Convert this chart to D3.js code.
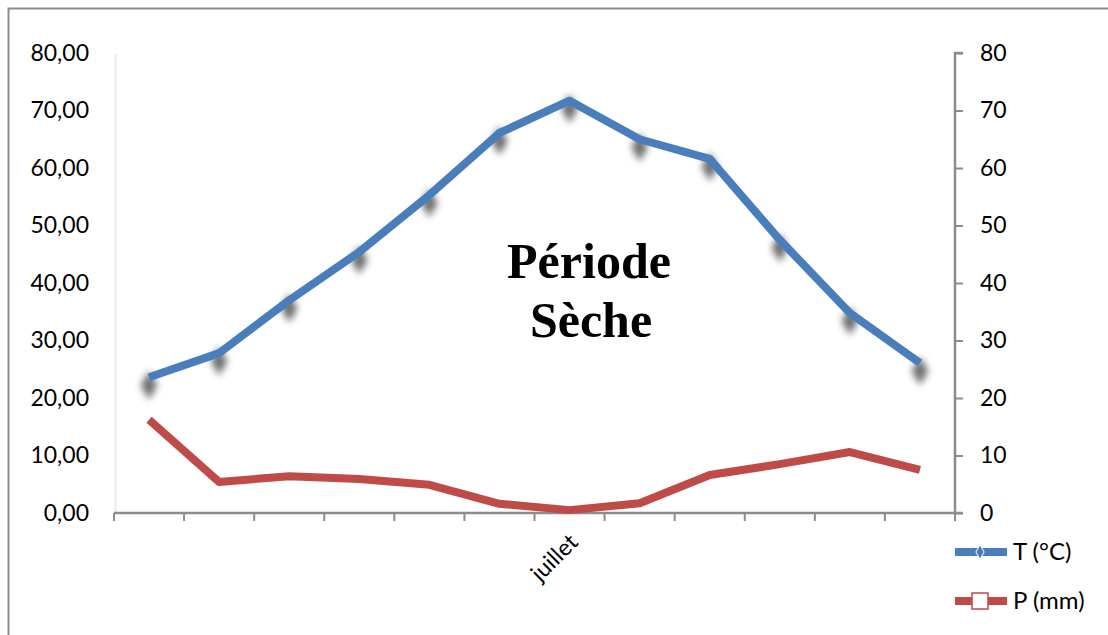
<!DOCTYPE html>
<html>
<head>
<meta charset="utf-8">
<script src="https://cdn.jsdelivr.net/npm/d3@7"></script>
<style>
	body { margin: 0; background: #fff; }
	svg { display: block; }
</style>
</head>
<body>
<svg width="1108" height="635"></svg>
<script>

// months of the year, only juillet is labelled in the original
const months = ["janvier", "février", "mars", "avril", "mai", "juin", "juillet", "août", "septembre", "octobre", "novembre", "décembre"];
const shownLabels = ["juillet"];
const tempValues = [23.6, 27.8, 37.0, 45.4, 55.3, 66.1, 71.7, 65.0, 61.6, 47.5, 34.8, 26.1];
const rainValues = [16.2, 5.4, 6.4, 5.9, 4.9, 1.6, 0.5, 1.7, 6.6, 8.5, 10.6, 7.5];
const yTicks = [0, 10, 20, 30, 40, 50, 60, 70, 80];
const seriesNames = ["T (°C)", "P (mm)"];

const blue = "#4a7ebb", red = "#be4b48";
const font = "Lato, 'Noto Sans', sans-serif";
const fsize = 23;

const svg = d3.select('svg');

// chart border (runs off the right and bottom edge)
svg.append('rect')
	.attr('x', 8.5).attr('y', 8.5)
	.attr('width', 1200).attr('height', 700)
	.attr('fill', 'none')
	.attr('stroke', '#8c8c8c')
	.attr('stroke-width', 2);

const pLeft = 114, pRight = 955, pTop = 53, pBottom = 513;

const x = d3.scaleBand().domain(months).range([pLeft, pRight]);
const yL = d3.scaleLinear().domain([0, 80]).range([pBottom, pTop]);
const yR = d3.scaleLinear().domain([0, 80]).range([pBottom, pTop]);

//blur filter for the shadows under the T markers
const defs = svg.append('defs');
defs.append('filter').attr('id', 'blur')
	.attr('x', '-100%').attr('y', '-100%').attr('width', '300%').attr('height', '300%')
	.append('feGaussianBlur').attr('stdDeviation', 3.8);

//Left axis : faint line, no ticks, labels with comma decimals
const fmt = d => d.toFixed(2).replace('.', ',');
const gL = svg.append('g')
	.attr('transform', `translate(${pLeft + 1},0)`)
	.call(d3.axisLeft(yL).tickValues(yTicks).tickSize(0).tickPadding(26).tickFormat(fmt));
gL.select('.domain').attr('stroke', '#e6ecf6').attr('stroke-width', 2);
gL.selectAll('text').attr('font-family', font).attr('font-size', fsize).attr('fill', '#000');

//Right axis
const gR = svg.append('g')
	.attr('transform', `translate(${pRight},0)`)
	.call(d3.axisRight(yR).tickValues(yTicks).tickSize(8).tickPadding(17).tickFormat(d3.format('d')));
gR.select('.domain').attr('stroke', '#8c8c8c').attr('stroke-width', 2.5).attr('d', `M8,${pTop}H0V${pBottom}H8`);
gR.selectAll('line').attr('stroke', '#8c8c8c').attr('stroke-width', 2);
gR.selectAll('text').attr('font-family', font).attr('font-size', fsize).attr('fill', '#000');

//Bottom axis with ticks between categories
const gB = svg.append('g').attr('transform', `translate(0,${pBottom})`);
gB.append('line')
	.attr('x1', pLeft).attr('x2', pRight)
	.attr('stroke', '#8c8c8c').attr('stroke-width', 2.5);
const bounds = months.map(m => x(m)).concat([pRight]);
gB.selectAll('.tk').data(bounds).join('line')
	.attr('class', 'tk')
	.attr('x1', d => d).attr('x2', d => d)
	.attr('y1', 0).attr('y2', 8)
	.attr('stroke', '#8c8c8c').attr('stroke-width', 2);
gB.selectAll('.lbl').data(shownLabels).join('text')
	.attr('class', 'lbl')
	.attr('transform', d => `translate(${x(d) + x.bandwidth() / 2 + 4},${25}) rotate(-45)`)
	.attr('text-anchor', 'end')
	.attr('dy', '0.35em')
	.attr('font-family', font).attr('font-size', fsize)
	.text(d => d);

const cx = i => x(months[i]) + x.bandwidth() / 2;

//shadows of the T markers
const diamond = d3.symbol().type(d3.symbolDiamond).size(240);
svg.append('g').selectAll('path').data(tempValues).join('path')
	.attr('d', diamond)
	.attr('transform', (d, i) => `translate(${cx(i)},${yR(d) + 8})`)
	.attr('fill', '#4a4a4a')
	.attr('opacity', 0.8)
	.attr('filter', 'url(#blur)');

const line = d3.line().x((d, i) => cx(i)).y(d => yR(d));

svg.append('path')
	.datum(rainValues)
	.attr('d', line)
	.attr('fill', 'none')
	.attr('stroke', red)
	.attr('stroke-width', 8)
	.attr('stroke-linejoin', 'round');

svg.append('path')
	.datum(tempValues)
	.attr('d', line)
	.attr('fill', 'none')
	.attr('stroke', blue)
	.attr('stroke-width', 8)
	.attr('stroke-linejoin', 'round');

//Annotation
const note = svg.append('text')
	.attr('x', 589).attr('y', 278)
	.attr('text-anchor', 'middle')
	.attr('font-family', "'Liberation Serif', 'Times New Roman', serif")
	.attr('font-weight', 'bold')
	.attr('font-size', 50);
note.append('tspan').attr('x', 589).text('Période');
note.append('tspan').attr('x', 591).attr('dy', 59).text('Sèche');

//Legend
const legend = svg.append('g');
const ly = [552, 601];
const colors = [blue, red];
seriesNames.forEach((name, i) => {
	const g = legend.append('g').attr('transform', `translate(0,${ly[i]})`);
	g.append('line')
		.attr('x1', 955).attr('x2', 1007)
		.attr('stroke', colors[i]).attr('stroke-width', 8);
	if (i == 0) {
		g.append('path')
			.attr('d', d3.symbol().type(d3.symbolDiamond).size(60))
			.attr('transform', 'translate(980,0)')
			.attr('fill', blue).attr('stroke', '#fff').attr('stroke-width', 1);
	} else {
		g.append('rect')
			.attr('x', 972).attr('y', -8).attr('width', 16).attr('height', 16)
			.attr('fill', '#fff').attr('stroke', red).attr('stroke-width', 1.5);
	}
	g.append('text')
		.attr('x', 1013).attr('dy', '0.35em')
		.attr('font-family', font).attr('font-size', 24)
		.text(name);
});

</script>
</body>
</html>
